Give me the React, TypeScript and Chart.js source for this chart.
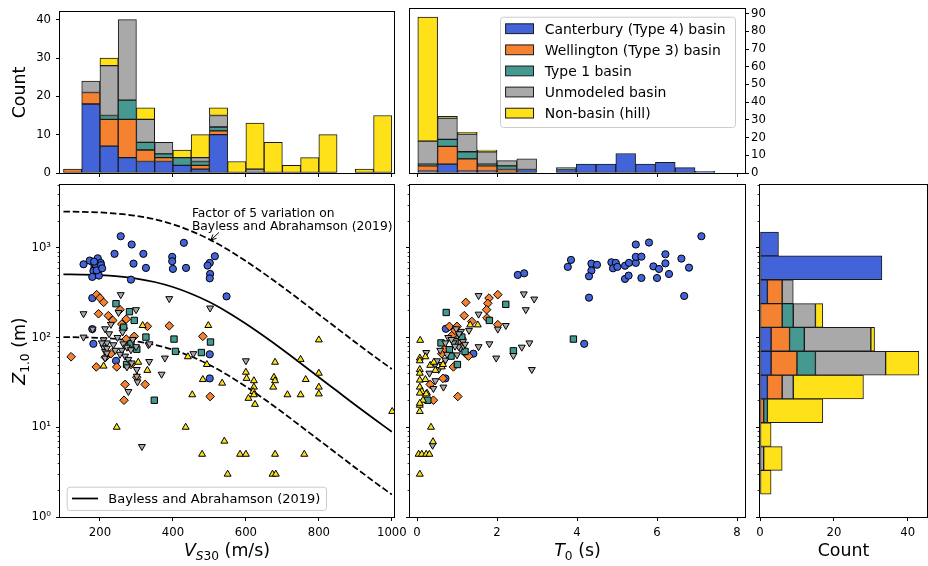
import React, { useEffect, useRef } from "react";
import { Chart, registerables } from "chart.js";

Chart.register(...registerables);

const FONT = "'DejaVu Sans', 'Liberation Sans', Arial, sans-serif";
Chart.defaults.font.family = FONT;
Chart.defaults.color = "#000";

const PAGE_W = 928;
const PAGE_H = 566;

// ---------------- categories ----------------
const CATEGORY_LABELS = [
  "Canterbury (Type 4) basin",
  "Wellington (Type 3) basin",
  "Type 1 basin",
  "Unmodeled basin",
  "Non-basin (hill)",
];
const CATEGORY_COLORS = ["#4363d8", "#f58231", "#469990", "#a9a9a9", "#ffe119"];

// ---------------- Vs30 histogram (top left) ----------------
const vs30BinEdges = [100, 150, 200, 250, 300, 350, 400, 450, 500, 550, 600, 650, 700, 750, 800, 850, 900, 950, 1000];
const vs30HistCanterbury = [0, 18, 7, 4, 3, 3, 2, 1, 10, 0, 0, 0, 0, 0, 0, 0, 0, 0];
const vs30HistWellington = [1, 3, 7, 10, 3, 1, 0, 1, 1, 0, 0, 0, 0, 0, 0, 0, 0, 0];
const vs30HistType1 = [0, 0, 1, 5, 2, 1, 2, 1, 1, 0, 0, 0, 0, 0, 0, 0, 0, 0];
const vs30HistUnmodeled = [0, 3, 13, 21, 6, 3, 0, 1, 3, 0, 1, 0, 0, 0, 0, 0, 0, 0];
const vs30HistNonBasin = [0, 0, 2, 0, 3, 0, 2, 6, 2, 3, 12, 8, 2, 4, 10, 0, 1, 15];

// ---------------- T0 histogram (top middle) ----------------
const t0BinEdges = [0.02, 0.515, 1.01, 1.505, 2.0, 2.495, 2.99, 3.485, 3.98, 4.475, 4.97, 5.465, 5.96, 6.455, 6.95, 7.445, 7.94];
const t0HistCanterbury = [1, 5, 1, 1, 0, 2, 0, 2, 5, 5, 11, 5, 6, 3, 1, 0];
const t0HistWellington = [3, 10, 7, 3, 2, 0, 0, 0, 0, 0, 0, 0, 0, 0, 0, 0];
const t0HistType1 = [1, 4, 4, 1, 2, 0, 0, 1, 0, 0, 0, 0, 0, 0, 0, 0];
const t0HistUnmodeled = [13, 12, 10, 7, 3, 6, 0, 0, 0, 0, 0, 0, 0, 0, 0, 0];
const t0HistNonBasin = [70, 1, 1, 1, 0, 0, 0, 0, 0, 0, 0, 0, 0, 0, 0, 0];

// ---------------- Z1.0 histogram (bottom right), bins from bottom to top ----------------
const z1BinEdges = [1.795, 3.307, 6.095, 11.23, 20.7, 38.15, 70.31, 129.6, 238.8, 440.1, 811.0, 1494];
const z1HistCanterbury = [0, 0, 0, 0, 2, 3, 3, 0, 2, 33, 5];
const z1HistWellington = [0, 0, 0, 1, 4, 7, 5, 6, 4, 0, 0];
const z1HistType1 = [0, 0, 0, 1, 0, 5, 4, 3, 0, 0, 0];
const z1HistUnmodeled = [0, 1, 0, 0, 3, 19, 18, 6, 3, 0, 0];
const z1HistNonBasin = [3, 5, 3, 15, 19, 9, 1, 2, 0, 0, 0];

// ---------------- scatter: Vs30 vs Z1.0 (bottom left) ----------------
const canterburyVs30 = [257, 287, 240, 319, 430, 398, 398, 515, 501, 495, 292, 326, 400, 436, 502, 501, 155, 179, 194, 202, 185, 199, 182, 194, 179, 197, 285, 547, 179, 179, 182, 244, 501, 501, 188, 172, 191, 184, 203, 206];
const canterburyZ1 = [1343, 1086, 855, 855, 1135, 791, 707, 804, 678, 633, 665, 596, 581, 596, 511, 456, 654, 696, 763, 678, 612, 596, 552, 538, 473, 489, 441, 287, 275, 124, 85, 55, 65, 35, 650, 720, 560, 700, 640, 590];
const wellingtonVs30 = [191, 200, 210, 255, 196, 223, 235, 272, 260, 330, 264, 390, 482, 294, 272, 230, 121, 190, 246, 301, 269, 324, 266, 502, 215, 285, 278];
const wellingtonZ1 = [300, 275, 246, 204, 184, 175, 155, 160, 141, 133, 127, 135, 103, 103, 96, 66, 61, 47, 47, 36, 30, 30, 20, 22, 60, 50, 80];
const type1Vs30 = [244, 281, 294, 326, 403, 301, 407, 478, 503, 349, 273, 285, 265];
const type1Z1 = [238, 194, 155, 101, 96, 74, 70, 68, 89, 20, 50, 85, 130];
const unmodeledVs30 = [257, 390, 299, 502, 251, 155, 230, 180, 214, 155, 210, 219, 210, 214, 214, 237, 242, 264, 274, 260, 269, 278, 285, 299, 333, 378, 335, 369, 456, 600, 278, 303, 301, 336, 315, 274, 287, 301, 205, 219, 219, 225, 248, 262, 290, 255];
const unmodeledZ1 = [300, 271, 204, 213, 190, 184, 140, 124, 125, 101, 94, 87, 78, 70, 59, 83, 72, 85, 78, 72, 62, 57, 73, 79, 83, 59, 54, 39, 66, 55, 25, 32, 37, 85, 6.1, 47, 52, 44, 87, 76, 67, 110, 100, 115, 95, 65];
const nonBasinVs30 = [317, 497, 210, 305, 330, 441, 493, 482, 535, 453, 435, 246, 541, 480, 584, 600, 680, 760, 550, 673, 682, 600, 602, 622, 622, 620, 622, 625, 607, 677, 680, 675, 680, 750, 800, 800, 800, 800, 764, 714, 750, 1001];
const nonBasinZ1 = [136, 136, 48, 53, 43, 61, 50, 34, 31, 23, 10, 10, 7, 5, 5, 5, 5, 5, 3, 3, 3, 41, 35, 33, 28, 25, 23, 18, 21, 36, 33, 28, 53, 57, 94, 40, 28, 23.5, 34, 23, 23, 15];

// Bayless and Abrahamson (2019) curve and factor-of-5 band
const baVs30 = [100, 150, 200, 250, 300, 350, 400, 450, 500, 550, 600, 650, 700, 750, 800, 850, 900, 950, 1000];
const baZ1 = [505, 502, 495, 479, 453, 415, 365, 307, 248, 191, 142, 103, 73.5, 51.7, 36.1, 25.3, 17.7, 12.5, 8.9];
const baZ1Upper = [2525, 2510, 2475, 2395, 2265, 2075, 1825, 1535, 1240, 955, 710, 515, 367.5, 258.5, 180.5, 126.5, 88.5, 62.5, 44.5];
const baZ1Lower = [101, 100.4, 99, 95.8, 90.6, 83, 73, 61.4, 49.6, 38.2, 28.4, 20.6, 14.7, 10.3, 7.22, 5.06, 3.54, 2.5, 1.78];

// ---------------- scatter: T0 vs Z1.0 (bottom middle) ----------------
const canterburyT0 = [7.11, 5.47, 5.8, 6.21, 6.61, 3.85, 3.77, 4.36, 4.5, 4.36, 4.3, 4.86, 4.97, 4.9, 5.01, 5.2, 5.3, 5.47, 5.47, 5.61, 5.2, 5.29, 5.61, 5.91, 6.05, 6.21, 6.0, 6.3, 6.8, 6.68, 4.3, 2.52, 2.68, 4.18, 0.72, 1.41, 0.71];
const canterburyZ1T = [1343, 1086, 1143, 846, 757, 732, 612, 665, 646, 556, 481, 689, 678, 590, 612, 630, 678, 678, 791, 795, 449, 489, 460, 620, 580, 670, 460, 510, 600, 290, 278, 498, 519, 85, 125, 66, 35];
const wellingtonT0 = [2.02, 1.8, 1.22, 1.77, 1.74, 1.18, 1.37, 2.02, 1.75, 0.81, 1.0, 0.91, 1.12, 0.89, 1.25, 0.62, 1.29, 0.91, 0.65, 0.33, 0.41, 1.02, 0.95, 1.05, 0.7];
const wellingtonZ1T = [300, 275, 246, 240, 204, 175, 151, 139, 165, 133, 133, 104, 98, 107, 64, 66, 62, 47, 35, 30, 20, 22, 120, 88, 75];
const type1T0 = [0.73, 2.22, 1.81, 0.6, 0.81, 1.12, 1.2, 1.01, 2.41, 3.91, 0.27, 0.95, 0.85];
const type1Z1T = [190, 234, 155, 87, 73, 101, 70, 50, 71, 96, 20, 90, 62];
const unmodeledT0 = [1.54, 2.67, 2.93, 2.72, 1.54, 2.22, 2.02, 1.1, 1.81, 1.54, 1.98, 2.62, 2.81, 2.41, 2.87, 0.23, 0.91, 1.08, 1.0, 0.71, 0.62, 0.54, 0.46, 0.66, 0.41, 0.39, 0.31, 0.71, 1.04, 1.16, 0.46, 0.98, 1.05, 0.78, 0.86, 1.15, 0.95, 1.2, 0.58, 0.75, 0.5, 1.3];
const unmodeledZ1T = [293, 306, 268, 204, 182, 136, 124, 117, 85, 79, 59, 78, 87, 63, 44, 68, 87, 76, 64, 56, 50, 44, 33, 28, 27, 6.3, 40, 87, 79, 81, 50, 125, 110, 100, 95, 90, 80, 84, 72, 65, 55, 120];
const nonBasinT0 = [0.08, 1.33, 1.52, 0.07, 0.07, 0.21, 0.33, 0.46, 0.62, 0.07, 0.07, 0.21, 0.07, 0.12, 0.07, 0.25, 0.07, 0.07, 0.35, 0.4, 0.04, 0.12, 0.23, 0.31, 0.07, 0.07, 0.23, 0.15, 0.65, 0.07, 0.42];
const nonBasinZ1T = [93, 138, 138, 59, 55, 61, 49, 43, 47, 44, 33.5, 34, 28, 25, 24, 24, 17.6, 15, 10, 6.9, 5, 5, 5, 5, 3, 40, 23.5, 20, 50, 18.5, 53];

// ---------------- axis ticks ----------------
const vs30Ticks = [200, 400, 600, 800, 1000];
const t0Ticks = [0, 2, 4, 6, 8];
const countTicksVs = [0, 10, 20, 30, 40];
const countTicksT0 = [0, 10, 20, 30, 40, 50, 60, 70, 80, 90];
const countTicksZ = [0, 20, 40];
const z1MajorTicks = [1, 10, 100, 1000];
const z1TickLabels = ["10⁰", "10¹", "10²", "10³"];

// ---------------- helpers ----------------
const TICK_FONT = 11.7;
const LABEL_FONT = 17.4;

type Seg = { t: string; it?: boolean; sub?: boolean };
function drawRichText(ctx: CanvasRenderingContext2D, segs: Seg[], cx: number, cy: number, size: number, vertical = false) {
  ctx.save();
  ctx.translate(cx, cy);
  if (vertical) ctx.rotate(-Math.PI / 2);
  ctx.fillStyle = "#000";
  ctx.textBaseline = "alphabetic";
  ctx.textAlign = "left";
  const fontOf = (s: Seg) => `${s.it ? "italic " : ""}${s.sub ? size * 0.7 : size}px ${FONT}`;
  const widths = segs.map((s) => {
    ctx.font = fontOf(s);
    return ctx.measureText(s.t).width;
  });
  const total = widths.reduce((a, b) => a + b, 0);
  let x = -total / 2;
  const base = size * 0.365;
  segs.forEach((s, i) => {
    ctx.font = fontOf(s);
    ctx.fillText(s.t, x, base + (s.sub ? size * 0.2 : 0));
    x += widths[i];
  });
  ctx.restore();
}

const setTicks = (vals: number[]) => (s: any) => {
  s.ticks = vals.map((value) => ({ value }));
};
const plainLabel = (v: any) => String(v);
const tickGrid = () => ({
  display: true,
  drawOnChartArea: false,
  drawTicks: true,
  tickLength: 4,
  tickColor: "#000",
  tickWidth: 1,
  offset: false,
});

const framePlugin = {
  id: "frame",
  afterDraw(chart: any) {
    const { ctx, chartArea: a } = chart;
    ctx.save();
    ctx.strokeStyle = "#000";
    ctx.lineWidth = 1;
    const l = Math.round(a.left) - 0.5;
    const t = Math.round(a.top) - 0.5;
    const r = Math.round(a.right) + 0.5;
    const b = Math.round(a.bottom) + 0.5;
    ctx.strokeRect(l, t, r - l, b - t);
    ctx.restore();
  },
};

const minorLogValues: number[] = [];
for (const d of [1, 10, 100, 1000]) for (let m = 2; m <= 9; m++) minorLogValues.push(m * d);

const minorTicksPlugin = {
  id: "minorLogTicks",
  afterDraw(chart: any) {
    const s = chart.scales.y;
    const ctx = chart.ctx;
    ctx.save();
    ctx.strokeStyle = "#000";
    ctx.lineWidth = 0.8;
    for (const v of minorLogValues) {
      if (v < s.min || v > s.max) continue;
      const y = Math.round(s.getPixelForValue(v)) + 0.5;
      ctx.beginPath();
      ctx.moveTo(s.right, y);
      ctx.lineTo(s.right - 2.4, y);
      ctx.stroke();
    }
    ctx.restore();
  },
};

function histDatasets(centers: number[], series: number[][], horizontal: boolean) {
  return series.map((counts, k) => ({
    label: CATEGORY_LABELS[k],
    data: centers.map((c, i) => {
      const v = counts[i] > 0 ? counts[i] : null;
      return horizontal ? { x: v, y: c } : { x: c, y: v };
    }),
    backgroundColor: CATEGORY_COLORS[k],
    borderColor: "#1a1a1a",
    borderWidth: 1,
    borderSkipped: false,
    barPercentage: 1,
    categoryPercentage: 1,
  }));
}

const MARKERS = [
  { style: "circle", radius: 3.6, rotation: 0 },
  { style: "rectRot", radius: 4.3, rotation: 0 },
  { style: "rect", radius: 4.5, rotation: 0 },
  { style: "triangle", radius: 4.0, rotation: 180 },
  { style: "triangle", radius: 4.0, rotation: 0 },
];

function scatterDatasets(xs: number[][], ys: number[][]) {
  return xs.map((xv, k) => ({
    label: CATEGORY_LABELS[k],
    data: xv.map((x, i) => ({ x, y: ys[k][i] })),
    pointStyle: MARKERS[k].style,
    pointRadius: MARKERS[k].radius,
    pointRotation: MARKERS[k].rotation,
    pointBackgroundColor: CATEGORY_COLORS[k],
    pointBorderColor: "#000",
    pointBorderWidth: 1,
    showLine: false,
    order: 5 - k,
  }));
}

const centersLinear = (edges: number[]) => edges.slice(0, -1).map((e, i) => (e + edges[i + 1]) / 2);
const centersLog = (edges: number[]) => edges.slice(0, -1).map((e, i) => Math.sqrt(e * edges[i + 1]));

const baseOptions = () => ({
  responsive: false,
  animation: false,
  devicePixelRatio: 1,
  events: [],
  plugins: { legend: { display: false }, tooltip: { enabled: false } },
});

// ---------------- chart configs ----------------
function configVs30Hist(): any {
  return {
    type: "bar",
    data: {
      datasets: histDatasets(
        centersLinear(vs30BinEdges),
        [vs30HistCanterbury, vs30HistWellington, vs30HistType1, vs30HistUnmodeled, vs30HistNonBasin],
        false
      ),
    },
    options: {
      ...baseOptions(),
      layout: { padding: { left: 20, top: 7, right: PAGE_W - 394, bottom: PAGE_H - 173 - 10 } },
      scales: {
        x: {
          type: "linear", min: 90.5, max: 1006, offset: false, stacked: true,
          afterBuildTicks: setTicks(vs30Ticks), afterFit: (s: any) => { s.height = 10; },
          ticks: { display: false }, grid: tickGrid(), border: { display: false },
        },
        y: {
          type: "linear", min: 0, max: 42, stacked: true,
          afterBuildTicks: setTicks(countTicksVs), afterFit: (s: any) => { s.width = 40; },
          ticks: { font: { size: TICK_FONT }, color: "#000", padding: 5, callback: plainLabel }, grid: tickGrid(), border: { display: false },
        },
      },
    },
    plugins: [
      framePlugin,
      {
        id: "titlesA",
        afterDraw(chart: any) {
          const a = chart.chartArea;
          drawRichText(chart.ctx, [{ t: "Count" }], a.left - 41, (a.top + a.bottom) / 2, LABEL_FONT, true);
        },
      },
    ],
  };
}

function configT0Hist(): any {
  return {
    type: "bar",
    data: {
      datasets: histDatasets(
        centersLinear(t0BinEdges),
        [t0HistCanterbury, t0HistWellington, t0HistType1, t0HistUnmodeled, t0HistNonBasin],
        false
      ),
    },
    options: {
      ...baseOptions(),
      layout: { padding: { left: 410, top: 7, right: PAGE_W - 745 - 30, bottom: PAGE_H - 173 - 10 } },
      scales: {
        x: {
          type: "linear", min: -0.175, max: 8.2, offset: false, stacked: true,
          afterBuildTicks: setTicks(t0Ticks), afterFit: (s: any) => { s.height = 10; },
          ticks: { display: false }, grid: tickGrid(), border: { display: false },
        },
        y: {
          type: "linear", position: "right", min: 0, max: 92.6, stacked: true,
          afterBuildTicks: setTicks(countTicksT0), afterFit: (s: any) => { s.width = 30; },
          ticks: { font: { size: TICK_FONT }, color: "#000", padding: 2, callback: plainLabel }, grid: tickGrid(), border: { display: false },
        },
      },
    },
    plugins: [
      framePlugin,
      {
        id: "typeLegend",
        afterDraw(chart: any) {
          const { ctx, chartArea: a } = chart;
          const fs = 13.95;
          const x0 = a.right - 245;
          const y0 = a.top + 7.7;
          const w = 235;
          const h = 110.3;
          ctx.save();
          ctx.beginPath();
          ctx.roundRect(x0 + 0.5, y0 + 0.5, w, h, 3);
          ctx.fillStyle = "rgba(255,255,255,0.8)";
          ctx.fill();
          ctx.strokeStyle = "#cccccc";
          ctx.lineWidth = 1;
          ctx.stroke();
          ctx.font = `${fs}px ${FONT}`;
          ctx.textBaseline = "alphabetic";
          ctx.textAlign = "left";
          CATEGORY_LABELS.forEach((lab, i) => {
            const cy = y0 + 12 + i * 21.1;
            ctx.fillStyle = CATEGORY_COLORS[i];
            ctx.fillRect(x0 + 5.6, cy - 4.9, 27.9, 9.8);
            ctx.strokeStyle = "#1a1a1a";
            ctx.strokeRect(x0 + 5.6, cy - 4.9, 27.9, 9.8);
            ctx.fillStyle = "#000";
            ctx.fillText(lab, x0 + 44.7, cy + 5);
          });
          ctx.restore();
        },
      },
    ],
  };
}

function logYAxis(showLabels: boolean, width: number) {
  return {
    type: "logarithmic",
    min: 1,
    max: 5000,
    afterBuildTicks: setTicks(z1MajorTicks),
    afterFit: (s: any) => { s.width = width; },
    ticks: {
      display: showLabels,
      font: { size: TICK_FONT },
      color: "#000",
      padding: 5,
      callback: (v: any) => {
        const i = z1MajorTicks.indexOf(Number(v));
        return i >= 0 ? z1TickLabels[i] : "";
      },
    },
    grid: tickGrid(),
    border: { display: false },
  };
}

function configVs30Scatter(): any {
  const lineDs = (ys: number[], dashed: boolean) => ({
    label: dashed ? "band" : "Bayless and Abrahamson (2019)",
    data: baVs30.map((x, i) => ({ x, y: ys[i] })),
    showLine: true,
    pointRadius: 0,
    borderColor: "#000",
    borderWidth: 1.75,
    borderDash: dashed ? [6.5, 2.8] : [],
    cubicInterpolationMode: "monotone",
    fill: false,
    order: 10,
  });
  return {
    type: "scatter",
    data: {
      datasets: [
        lineDs(baZ1, false),
        lineDs(baZ1Upper, true),
        lineDs(baZ1Lower, true),
        ...scatterDatasets(
          [canterburyVs30, wellingtonVs30, type1Vs30, unmodeledVs30, nonBasinVs30],
          [canterburyZ1, wellingtonZ1, type1Z1, unmodeledZ1, nonBasinZ1]
        ),
      ],
    },
    options: {
      ...baseOptions(),
      layout: { padding: { left: 20, top: 185, right: PAGE_W - 394, bottom: PAGE_H - 517 - 30 } },
      scales: {
        x: {
          type: "linear", min: 90.5, max: 1006,
          afterBuildTicks: setTicks(vs30Ticks), afterFit: (s: any) => { s.height = 30; },
          ticks: { font: { size: TICK_FONT }, color: "#000", padding: 5, callback: plainLabel }, grid: tickGrid(), border: { display: false },
        },
        y: logYAxis(true, 40),
      },
    },
    plugins: [
      minorTicksPlugin,
      framePlugin,
      {
        id: "annotC",
        afterDraw(chart: any) {
          const { ctx, chartArea: a, scales } = chart;
          const xs = scales.x;
          const ys = scales.y;
          ctx.save();
          // annotation text
          ctx.font = `12.3px ${FONT}`;
          ctx.fillStyle = "#000";
          ctx.textAlign = "left";
          ctx.textBaseline = "alphabetic";
          const tx = xs.getPixelForValue(452);
          ctx.fillText("Factor of 5 variation on", tx, a.top + 32);
          ctx.fillText("Bayless and Abrahamson (2019)", tx, a.top + 44.5);
          // arrow
          const hx = xs.getPixelForValue(504);
          const hy = ys.getPixelForValue(1215);
          const sx = xs.getPixelForValue(526);
          const sy = ys.getPixelForValue(1480);
          ctx.strokeStyle = "#000";
          ctx.lineWidth = 1;
          ctx.beginPath();
          ctx.moveTo(sx, sy);
          ctx.lineTo(hx, hy);
          const ang = Math.atan2(hy - sy, hx - sx);
          for (const d of [-0.45, 0.45]) {
            ctx.moveTo(hx, hy);
            ctx.lineTo(hx - 6 * Math.cos(ang + d), hy - 6 * Math.sin(ang + d));
          }
          ctx.stroke();
          // legend box
          const lx = a.left + 6.7;
          const ly = a.bottom - 30.3;
          ctx.beginPath();
          ctx.roundRect(lx + 0.5, ly + 0.5, 259.3, 23.3, 3);
          ctx.fillStyle = "rgba(255,255,255,0.8)";
          ctx.fill();
          ctx.strokeStyle = "#cccccc";
          ctx.stroke();
          const cy = ly + 11.8;
          ctx.strokeStyle = "#000";
          ctx.lineWidth = 1.75;
          ctx.beginPath();
          ctx.moveTo(lx + 5.3, cy);
          ctx.lineTo(lx + 31.3, cy);
          ctx.stroke();
          ctx.font = `13px ${FONT}`;
          ctx.fillStyle = "#000";
          ctx.fillText("Bayless and Abrahamson (2019)", lx + 41.6, cy + 4.8);
          ctx.restore();
          // axis titles
          drawRichText(ctx, [{ t: "Z", it: true }, { t: "1.0", sub: true }, { t: " (m)" }], a.left - 41, (a.top + a.bottom) / 2, LABEL_FONT, true);
          drawRichText(ctx, [{ t: "V", it: true }, { t: "S", it: true, sub: true }, { t: "30", sub: true }, { t: " (m/s)" }], (a.left + a.right) / 2, a.bottom + 33, LABEL_FONT);
        },
      },
    ],
  };
}

function configT0Scatter(): any {
  return {
    type: "scatter",
    data: {
      datasets: scatterDatasets(
        [canterburyT0, wellingtonT0, type1T0, unmodeledT0, nonBasinT0],
        [canterburyZ1T, wellingtonZ1T, type1Z1T, unmodeledZ1T, nonBasinZ1T]
      ),
    },
    options: {
      ...baseOptions(),
      layout: { padding: { left: 400, top: 185, right: PAGE_W - 745, bottom: PAGE_H - 517 - 30 } },
      scales: {
        x: {
          type: "linear", min: -0.175, max: 8.2,
          afterBuildTicks: setTicks(t0Ticks), afterFit: (s: any) => { s.height = 30; },
          ticks: { font: { size: TICK_FONT }, color: "#000", padding: 5, callback: plainLabel }, grid: tickGrid(), border: { display: false },
        },
        y: logYAxis(false, 10),
      },
    },
    plugins: [
      minorTicksPlugin,
      framePlugin,
      {
        id: "titlesD",
        afterDraw(chart: any) {
          const a = chart.chartArea;
          drawRichText(chart.ctx, [{ t: "T", it: true }, { t: "0", sub: true }, { t: " (s)" }], (a.left + a.right) / 2, a.bottom + 33, LABEL_FONT);
        },
      },
    ],
  };
}

function configZ1Hist(): any {
  return {
    type: "bar",
    data: {
      datasets: histDatasets(
        centersLog(z1BinEdges),
        [z1HistCanterbury, z1HistWellington, z1HistType1, z1HistUnmodeled, z1HistNonBasin],
        true
      ),
    },
    options: {
      ...baseOptions(),
      indexAxis: "y",
      layout: { padding: { left: 750, top: 185, right: 1, bottom: PAGE_H - 517 - 30 } },
      scales: {
        x: {
          type: "linear", min: 0, max: 45.2, stacked: true,
          afterBuildTicks: setTicks(countTicksZ), afterFit: (s: any) => { s.height = 30; },
          ticks: { font: { size: TICK_FONT }, color: "#000", padding: 5, callback: plainLabel }, grid: tickGrid(), border: { display: false },
        },
        y: { ...logYAxis(false, 10), stacked: true, offset: false },
      },
    },
    plugins: [
      minorTicksPlugin,
      framePlugin,
      {
        id: "titlesE",
        afterDraw(chart: any) {
          const a = chart.chartArea;
          drawRichText(chart.ctx, [{ t: "Count" }], (a.left + a.right) / 2, a.bottom + 33, LABEL_FONT);
        },
      },
    ],
  };
}

export default function App() {
  const r0 = useRef<HTMLCanvasElement>(null);
  const r1 = useRef<HTMLCanvasElement>(null);
  const r2 = useRef<HTMLCanvasElement>(null);
  const r3 = useRef<HTMLCanvasElement>(null);
  const r4 = useRef<HTMLCanvasElement>(null);
  const refs = [r0, r1, r2, r3, r4];

  useEffect(() => {
    const cfgs = [configVs30Hist(), configT0Hist(), configVs30Scatter(), configT0Scatter(), configZ1Hist()];
    const charts = cfgs.map((cfg, i) => new Chart(refs[i].current as HTMLCanvasElement, cfg));
    return () => charts.forEach((c) => c.destroy());
  }, []);

  return (
    <div style={{ position: "fixed", left: 0, top: 0, width: PAGE_W, height: PAGE_H, background: "#fff", overflow: "hidden" }}>
      {refs.map((r, i) => (
        <canvas
          key={i}
          ref={r}
          width={PAGE_W}
          height={PAGE_H}
          style={{ position: "absolute", left: 0, top: 0, width: PAGE_W, height: PAGE_H, display: "block" }}
        />
      ))}
    </div>
  );
}
